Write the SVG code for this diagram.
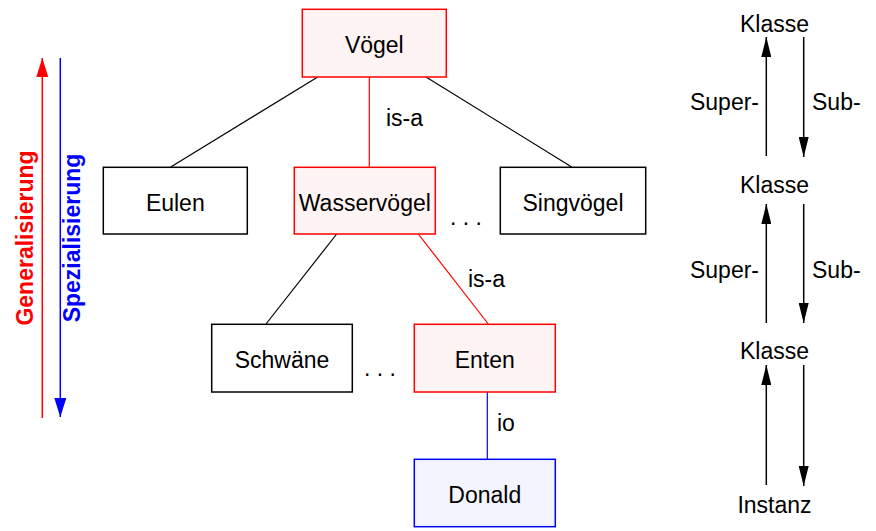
<svg xmlns="http://www.w3.org/2000/svg" width="876" height="531" viewBox="0 0 876 531">
  <style>
    text { font-family: "Liberation Sans", Arial, sans-serif; font-size: 23px; fill: #000; }
    .c { text-anchor: middle; }
    .box { fill: #fff; stroke: #000; stroke-width: 1.5; }
    .red { fill: #fff4f4; stroke: #ff0000; stroke-width: 1.5; }
    .blue { fill: #f4f4ff; stroke: #0000ff; stroke-width: 1.5; }
    .lk { stroke: #000; stroke-width: 1.2; fill: none; }
    .lr { stroke: #ff0000; stroke-width: 1.2; fill: none; }
    .lb { stroke: #0000ff; stroke-width: 1.2; fill: none; }
    .ar { stroke: #000; stroke-width: 1.5; fill: none; }
    .b { font-weight: bold; }
  </style>
  <defs>
    <marker id="ak" markerUnits="userSpaceOnUse" markerWidth="20" markerHeight="10" refX="20" refY="5" orient="auto">
      <path d="M0,0 L20,5 L0,10 z" fill="#000"/>
    </marker>
    <marker id="arr" markerUnits="userSpaceOnUse" markerWidth="19" markerHeight="12" refX="19" refY="6" orient="auto">
      <path d="M0,0 L19,6 L0,12 z" fill="#ff0000"/>
    </marker>
    <marker id="abl" markerUnits="userSpaceOnUse" markerWidth="19" markerHeight="12" refX="19" refY="6" orient="auto">
      <path d="M0,0 L19,6 L0,12 z" fill="#0000ff"/>
    </marker>
  </defs>

  <!-- left direction arrows -->
  <g id="generalisierung">
    <line x1="42.3" y1="418" x2="42.3" y2="58" stroke="#ff0000" stroke-width="1.5" marker-end="url(#arr)"/>
    <text class="c b" transform="translate(32.5,238) rotate(-90)" style="fill:#ff0000">Generalisierung</text>
  </g>
  <g id="spezialisierung">
    <line x1="60.3" y1="58" x2="60.3" y2="417" stroke="#0000ff" stroke-width="1.5" marker-end="url(#abl)"/>
    <text class="c b" transform="translate(80,238) rotate(-90)" style="fill:#0000ff">Spezialisierung</text>
  </g>

  <!-- connectors -->
  <g id="connectors">
    <line class="lk" x1="317.7" y1="77" x2="170.7" y2="167"/>
    <line class="lk" x1="426" y1="77" x2="571.7" y2="167"/>
    <line class="lr" x1="369.3" y1="77" x2="369.3" y2="167"/>
    <line class="lk" x1="336.7" y1="234" x2="266" y2="324"/>
    <line class="lr" x1="418.3" y1="234" x2="488.3" y2="324"/>
    <line class="lb" x1="487.3" y1="392" x2="487.3" y2="459"/>
    <text x="386" y="126">is-a</text>
    <text x="468" y="287">is-a</text>
    <text x="497" y="431">io</text>
    <text x="450" y="225">. . .</text>
    <text x="364" y="376">. . .</text>
  </g>

  <g id="voegel">
    <rect class="red" x="302.3" y="9.3" width="144" height="67.7"/>
    <text class="c" x="374.3" y="53">Vögel</text>
  </g>
  <g id="eulen">
    <rect class="box" x="103.3" y="167.3" width="144" height="66.7"/>
    <text class="c" x="175.3" y="211">Eulen</text>
  </g>
  <g id="wasservoegel">
    <rect class="red" x="294.3" y="167.3" width="141" height="66.7"/>
    <text class="c" x="364.8" y="211">Wasservögel</text>
  </g>
  <g id="singvoegel">
    <rect class="box" x="500.3" y="167.3" width="145.4" height="66.7"/>
    <text class="c" x="573" y="211">Singvögel</text>
  </g>
  <g id="schwaene">
    <rect class="box" x="211.7" y="324.3" width="140.6" height="67.7"/>
    <text class="c" x="282" y="368">Schwäne</text>
  </g>
  <g id="enten">
    <rect class="red" x="414.3" y="324.3" width="141" height="67.7"/>
    <text class="c" x="484.8" y="368">Enten</text>
  </g>
  <g id="donald">
    <rect class="blue" x="414.3" y="459.3" width="141" height="67.4"/>
    <text class="c" x="484.8" y="503">Donald</text>
  </g>

  <!-- right legend -->
  <g id="klasse1"><text class="c" x="774.5" y="31.5">Klasse</text></g>
  <g id="klasse2"><text class="c" x="774.5" y="193.3">Klasse</text></g>
  <g id="klasse3"><text class="c" x="774.5" y="359">Klasse</text></g>
  <g id="instanz"><text class="c" x="774.5" y="513.3">Instanz</text></g>
  <g id="legend-connectors">
    <line class="ar" x1="766.3" y1="156" x2="766.3" y2="37" marker-end="url(#ak)"/>
    <line class="ar" x1="803.7" y1="37" x2="803.7" y2="157" marker-end="url(#ak)"/>
    <line class="ar" x1="766.3" y1="323" x2="766.3" y2="204" marker-end="url(#ak)"/>
    <line class="ar" x1="803.7" y1="204" x2="803.7" y2="323" marker-end="url(#ak)"/>
    <line class="ar" x1="766.3" y1="485" x2="766.3" y2="365" marker-end="url(#ak)"/>
    <line class="ar" x1="803.7" y1="365" x2="803.7" y2="486" marker-end="url(#ak)"/>
    <text x="759" y="110" text-anchor="end">Super-</text>
    <text x="812" y="110">Sub-</text>
    <text x="759" y="278" text-anchor="end">Super-</text>
    <text x="812" y="278">Sub-</text>
  </g>
</svg>
